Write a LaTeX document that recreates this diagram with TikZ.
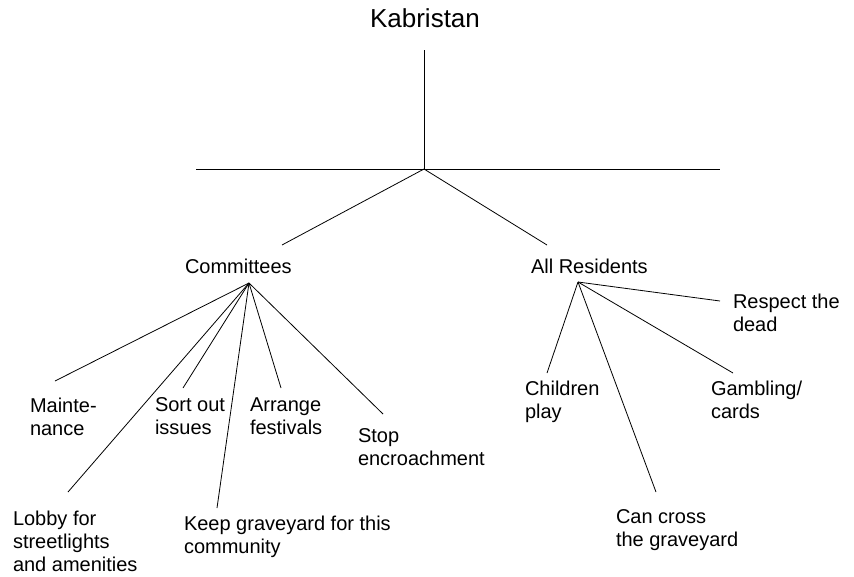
\documentclass[tikz,border=0pt]{standalone}
\usepackage{fontspec}
\setmainfont{Liberation Sans}
\usepackage{tikz}
\usetikzlibrary{positioning}

\begin{document}
\begin{tikzpicture}[
  x=1pt, y=-1pt,
  every node/.style={inner sep=0pt, outer sep=0pt, align=left, anchor=north west,
                     font=\fontsize{20}{23}\selectfont},
  every path/.style={line width=0.8pt},
]
\tikzset{title/.style={anchor=north, font=\fontsize{26}{30}\selectfont}}
\useasboundingbox (0,0) rectangle (854,576);

%% Top
\node[title] (K) at (425,9) {Kabristan};
\coordinate (top) at (424,50);
\coordinate (hub) at (424,169);
\coordinate (hl)  at (196,169);
\coordinate (hr)  at (720,169);
\coordinate (toC) at (282,245);
\coordinate (toR) at (547,245);

\draw (top) to (hub);
\draw (hl)  to (hr);
\draw (hub) to (toC);
\draw (hub) to (toR);

%% Committees
\node (C)  at (185,259) {Committees};
\coordinate (C0) at (249,283);

\node (maint)   at (30,398)  {Mainte-\\nance};
\node (lobby)   at (13,511)  {Lobby for\\streetlights\\and amenities};
\node (sort)    at (155,398) {Sort out\\issues};
\node (keep)    at (184,516) {Keep graveyard for this\\community};
\node (arrange) at (250,398) {Arrange\\festivals};
\node (stop)    at (358,429) {Stop\\encroachment};

\coordinate (maint-e)   at (55,381);
\coordinate (lobby-e)   at (68,492);
\coordinate (sort-e)    at (183,388);
\coordinate (keep-e)    at (217,508);
\coordinate (arrange-e) at (281,388);
\coordinate (stop-e)    at (383,414);

\draw (C0) to (maint-e);
\draw (C0) to (lobby-e);
\draw (C0) to (sort-e);
\draw (C0) to (keep-e);
\draw (C0) to (arrange-e);
\draw (C0) to (stop-e);

%% All Residents
\node (R)  at (531,259) {All Residents};
\coordinate (R0) at (578,282);

\node (kids)    at (525,381) {Children\\play};
\node (cross)   at (616,510) {Can cross\\the graveyard};
\node (gamble)  at (711,381) {Gambling/\\cards};
\node (respect) at (733,294) {Respect the\\dead};

\coordinate (kids-e)    at (547,373);
\coordinate (cross-e)   at (656,492);
\coordinate (gamble-e)  at (733,373);
\coordinate (respect-e) at (720,301);

\draw (R0) to (kids-e);
\draw (R0) to (cross-e);
\draw (R0) to (gamble-e);
\draw (R0) to (respect-e);

\end{tikzpicture}
\end{document}
